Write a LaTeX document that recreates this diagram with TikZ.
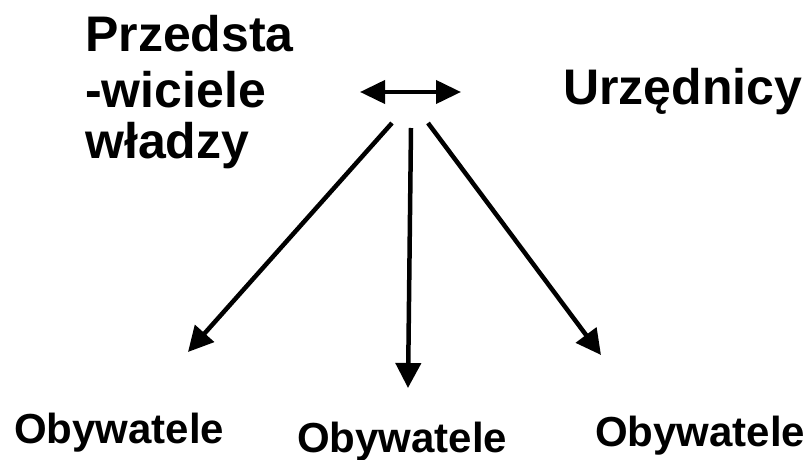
\documentclass[tikz,border=0pt]{standalone}
\usepackage{fontspec}
\setmainfont{Liberation Sans}
\usetikzlibrary{arrows.meta}
\begin{document}
\begin{tikzpicture}[x=1pt,y=-1pt,
  big/.style={anchor=base west,inner sep=0pt,font=\fontsize{50}{53}\selectfont\bfseries},
  small/.style={anchor=base west,inner sep=0pt,font=\fontsize{42}{46}\selectfont\bfseries},
  conn/.style={line width=4.5pt,-{Triangle[length=25pt,width=25pt]}},
  dconn/.style={line width=4pt,{Triangle[length=25pt,width=23pt]}-{Triangle[length=25pt,width=23pt]}}]
\useasboundingbox (0,0) rectangle (812,460);
\node[big] (p1) at (85,52) {Przedsta};
\node[big] (p2) at (85,107) {-wiciele};
\node[big] (p3) at (85,158) {władzy};
\node[big] (u) at (563,105) {Urzędnicy};
\node[small] (o1) at (14,443) {Obywatele};
\node[small] (o2) at (297,452) {Obywatele};
\node[small] (o3) at (595,446) {Obywatele};
\coordinate (dl) at (360,92);
\coordinate (dr) at (461,92);
\coordinate (s1) at (392,123);
\coordinate (s2) at (411,128);
\coordinate (s3) at (428,123);
\coordinate (t1) at (188,352);
\coordinate (t2) at (408,388);
\coordinate (t3) at (601,355);
\draw[dconn] (dl) -- (dr);
\draw[conn] (s1) -- (t1);
\draw[conn] (s2) -- (t2);
\draw[conn] (s3) -- (t3);
\end{tikzpicture}
\end{document}
